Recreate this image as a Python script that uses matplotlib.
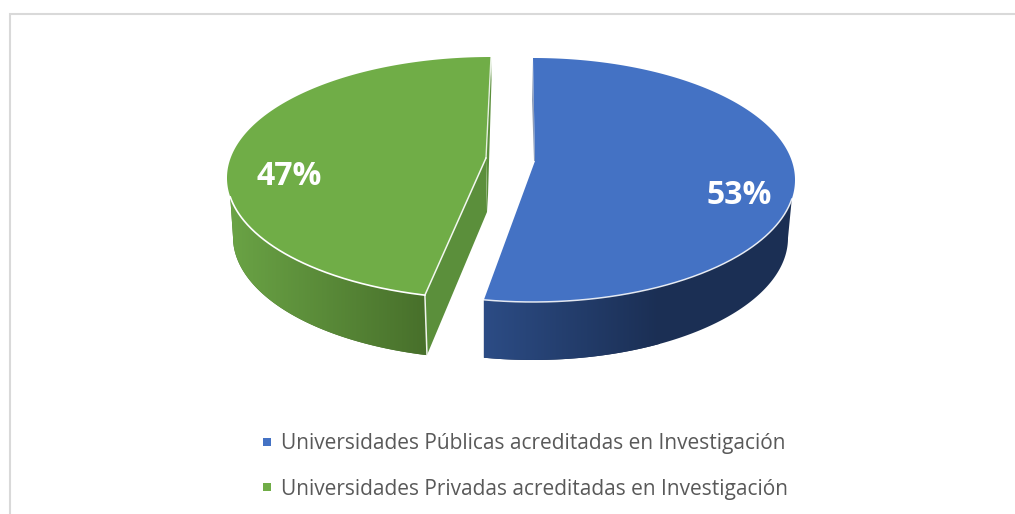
#!/usr/bin/env python
# -*- coding:utf-8 -*-
# pie 3D hecho a mano, coordenadas de pixeles de la figura

import numpy as np
import matplotlib
matplotlib.use('Agg')
import matplotlib.pyplot as plt
from matplotlib.colors import LinearSegmentedColormap
from matplotlib.patches import Polygon, Rectangle

# datos
categorias = ['Universidades Públicas acreditadas en Investigación',
              'Universidades Privadas acreditadas en Investigación']
valores = [53, 47]
etiquetas = ['53%', '47%']

AZUL = '#4472C4'
VERDE = '#70AD47'
GRIS = '#595959'
BORDE = '#D9D9D9'


# angulo medido desde las 12 en sentido horario
def elipse(c, r, ang):
    ang = np.radians(ang)
    return np.column_stack([c[0] + r[0] * np.sin(ang), c[1] - r[1] * np.cos(ang)])


def arco(c, r, a0, a1):
    return elipse(c, r, np.linspace(a0, a1, 200))


# pared lateral con degradado horizontal
def pared(ax, puntos, colores, x_grad):
    cmap = LinearSegmentedColormap.from_list('g', colores)
    grad = np.linspace(0, 1, 256).reshape(1, -1)
    ys = puntos[:, 1]
    im = ax.imshow(grad, cmap=cmap, aspect='auto', zorder=2,
                   extent=[x_grad[0], x_grad[1], ys.max() + 1, ys.min() - 1])
    clip = Polygon(puntos, closed=True, transform=ax.transData)
    im.set_clip_path(clip)
    # lo que queda fuera del degradado
    ax.add_patch(Polygon(puntos, closed=True, fc=colores[-1], ec='none', zorder=1.5))


fig = plt.figure(figsize=(10.15, 5.14), dpi=100)
ax = fig.add_axes([0, 0, 1, 1])

corte = 360.0 * valores[0] / sum(valores)

# porcion azul
c_az, r_az = (533, 180), (262, 122)
c_az_b, r_az_b = (533, 238), (255, 122)
apice_az = (535, 161)
borde_az = arco(c_az, r_az, 0, corte)
a_ini = 99
a_b = 180 + np.degrees(np.arcsin((c_az[0] - borde_az[-1, 0]) / r_az_b[0]))
pts = np.vstack([arco(c_az, r_az, a_ini, corte), arco(c_az_b, r_az_b, a_b, 90)])
pared(ax, pts, ['#2C4C85', '#1B2F54'], (483, 660))
ax.add_patch(Polygon([(533, 60), (532, 100), (534, 161), (535, 161)], closed=True,
                     fc='#8E9DB8', ec='none', zorder=2.5))
ax.add_patch(Polygon(np.vstack([[apice_az], borde_az]), closed=True, fc=AZUL, ec='none', zorder=3))
ax.plot(*arco(c_az, r_az, a_ini, corte).T, color='white', lw=1.1, alpha=0.85, zorder=4)

# porcion verde
c_ve, r_ve = (491, 178), (264, 121)
c_ve_b, r_ve_b = (491, 237), (258, 122)
apice_ve = (486, 158)
desvio = 3.7  # perspectiva del corte
a_ve = corte + desvio
borde_ve = arco(c_ve, r_ve, a_ve, 360)
pie_ve = (427, 355)
a_b = 180 + np.degrees(np.arcsin((c_ve_b[0] - pie_ve[0]) / r_ve_b[0]))
pts = np.vstack([arco(c_ve, r_ve, 261, a_ve), arco(c_ve_b, r_ve_b, a_b, 270)[::1]])
pared(ax, pts, ['#6AA345', '#48702B'], (230, 425))
ax.add_patch(Polygon([apice_ve, (487, 212), pie_ve, borde_ve[0]], closed=True,
                     fc='#5B8F3B', ec='none', zorder=2.5))
ax.add_patch(Polygon([(491, 57), (491.5, 80), (487.5, 212), apice_ve], closed=True,
                     fc='#5B8F3B', ec='none', zorder=2.5))
ax.add_patch(Polygon(np.vstack([[apice_ve], borde_ve]), closed=True, fc=VERDE, ec='none', zorder=3))
ax.plot(*arco(c_ve, r_ve, 261, a_ve).T, color='white', lw=1.2, zorder=4)
ax.plot([apice_ve[0], borde_ve[0, 0], pie_ve[0]], [apice_ve[1], borde_ve[0, 1], pie_ve[1]],
        color='white', lw=1.1, alpha=0.9, zorder=4)
ax.plot([491, apice_ve[0]], [57, apice_ve[1]], color='white', lw=1.0, alpha=0.8, zorder=4)

# etiquetas de porcentaje
ax.text(739, 195, etiquetas[0], color='white', fontsize=23, fontweight='bold',
        family='Open Sans', ha='center', va='center', zorder=5)
ax.text(289.5, 176.5, etiquetas[1], color='white', fontsize=23, fontweight='bold',
        family='Open Sans', ha='center', va='center', zorder=5)

# leyenda
for cat, col, y in zip(categorias, [AZUL, VERDE], [444, 489]):
    ax.add_patch(Rectangle((263.5, y - 6), 8, 8, fc=col, ec='none'))
    ax.text(281, y, cat, color=GRIS, fontsize=15.02, family='Open Sans', ha='left', va='center')

# marco del grafico
ax.plot([10, 10, 1015], [514, 14, 14], color=BORDE, lw=1.5, solid_joinstyle='miter')

ax.set_xlim(0, 1015)
ax.set_ylim(514, 0)
ax.axis('off')
fig.savefig('out.png', dpi=100, facecolor='white')
